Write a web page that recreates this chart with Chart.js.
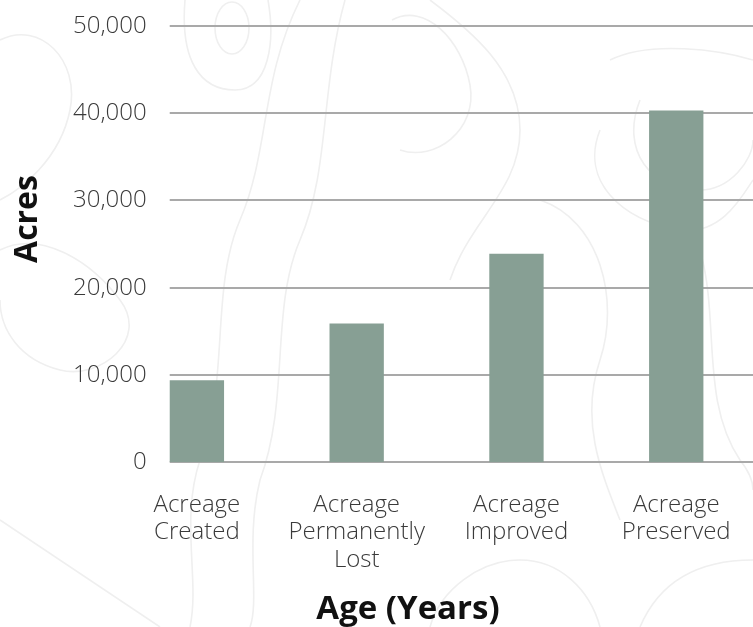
<!DOCTYPE html>
<html>
<head>
<meta charset="utf-8">
<title>Acreage</title>
<script src="https://cdn.jsdelivr.net/npm/chart.js@4/dist/chart.umd.min.js"></script>
<style>
    html, body { margin: 0; padding: 0; background: #ffffff; overflow: hidden; }
    #wrap { position: relative; width: 760px; height: 627px; }
    #contours { position: absolute; left: 0; top: 0; }
    #acreage-chart { position: absolute; left: 0; top: 0; }
</style>
</head>
<body>
<div id="wrap">
    <!-- faint topographic backdrop -->
    <svg id="contours" width="753" height="627" fill="none" stroke="#efefef" stroke-width="1.6">
        <path d="M0,40 C40,20 80,60 70,110 C60,160 20,190 0,200"/>
        <path d="M0,250 C40,230 90,260 120,300 C150,340 100,380 60,370 C20,360 0,330 0,300"/>
        <ellipse cx="232" cy="28" rx="17" ry="26"/>
        <path d="M185,0 C180,60 200,90 235,90 C270,90 275,40 268,0"/>
        <path d="M300,0 C260,80 270,150 240,220 C210,290 230,380 200,460 C180,520 200,580 190,627"/>
        <path d="M345,0 C320,90 330,170 300,240 C270,310 290,400 260,480 C245,540 260,600 250,627"/>
        <path d="M392,20 C425,2 462,40 470,85 C478,130 435,162 400,150"/>
        <path d="M430,0 C470,30 520,70 520,130 C520,190 470,220 450,280"/>
        <path d="M610,60 C650,40 720,50 753,60"/>
        <path d="M600,130 C580,180 620,220 680,230 C720,235 740,200 753,180"/>
        <path d="M640,100 C620,150 650,190 700,190 C730,190 753,160 753,140"/>
        <path d="M700,250 C720,320 700,400 740,460 C748,470 753,480 753,490"/>
        <path d="M540,200 C600,220 620,300 600,360 C580,420 600,470 620,520"/>
        <path d="M0,520 C60,560 120,600 160,627"/>
        <path d="M430,627 C440,590 480,560 520,560 C560,560 590,590 600,627"/>
        <path d="M640,627 C660,580 700,560 753,560"/>
    </svg>
    <canvas id="acreage-chart" width="760" height="627"></canvas>
</div>
<script>
const categories = [
    ['Acreage', 'Created'],
    ['Acreage', 'Permanently', 'Lost'],
    ['Acreage', 'Improved'],
    ['Acreage', 'Preserved']
];
const acres = [9400, 15900, 23900, 40300];
const yTicks = [0, 10000, 20000, 30000, 40000, 50000];

const barColor = '#879f94';
const gridColor = '#a9a9a9';
const labelColor = '#3a3a3a';
const titleColor = '#111111';

// grid lines start at the first bar instead of the chart area edge
const trimmedGrid = {
    id: 'trimmedGrid',
    beforeDatasetsDraw(chart) {
        const { ctx, chartArea, scales } = chart;
        const first = chart.getDatasetMeta(0).data[0];
        const left = first.x - first.width / 2;
        ctx.save();
        ctx.strokeStyle = gridColor;
        ctx.lineWidth = 2;
        scales.y.ticks.forEach(t => {
            const y = Math.round(scales.y.getPixelForValue(t.value));
            ctx.beginPath();
            ctx.moveTo(left, y);
            ctx.lineTo(chartArea.right, y);
            ctx.stroke();
        });
        ctx.restore();
    }
};

// axis titles
const axisTitles = {
    id: 'axisTitles',
    afterDraw(chart) {
        const { ctx } = chart;
        ctx.save();
        ctx.fillStyle = titleColor;
        ctx.font = 'bold 33px "Open Sans"';
        ctx.textAlign = 'center';
        ctx.textBaseline = 'alphabetic';
        ctx.fillText('Age (Years)', 408, 619);
        ctx.font = 'bold 32px "Open Sans"';
        ctx.translate(37, 219);
        ctx.rotate(-Math.PI / 2);
        ctx.fillText('Acres', 0, 0);
        ctx.restore();
    }
};

new Chart(document.getElementById('acreage-chart'), {
    type: 'bar',
    data: {
        labels: categories,
        datasets: [{
            data: acres,
            backgroundColor: barColor,
            borderWidth: 0,
            categoryPercentage: 1,
            barPercentage: 0.34
        }]
    },
    options: {
        responsive: false,
        animation: false,
        events: [],
        layout: { padding: { left: 0, top: 26, right: 3, bottom: 24 } },
        plugins: {
            legend: { display: false },
            tooltip: { enabled: false }
        },
        scales: {
            x: {
                grid: { display: false, drawTicks: false },
                border: { display: false },
                ticks: {
                    color: labelColor,
                    padding: 29,
                    maxRotation: 0,
                    font: { family: 'Open Sans', size: 24, weight: 300, lineHeight: 1.15 }
                }
            },
            y: {
                min: 0,
                max: 50000,
                afterBuildTicks: scale => {
                    scale.ticks = yTicks.map(v => ({ value: v }));
                },
                afterFit: scale => { scale.width = 117; },
                grid: { display: false, drawTicks: false },
                border: { display: false },
                ticks: {
                    mirror: true,
                    crossAlign: 'far',
                    color: labelColor,
                    padding: -44,
                    font: { family: 'Open Sans', size: 24, weight: 300 },
                    callback: value => new Intl.NumberFormat('en-US').format(value)
                }
            }
        }
    },
    plugins: [trimmedGrid, axisTitles]
});
</script>
</body>
</html>
